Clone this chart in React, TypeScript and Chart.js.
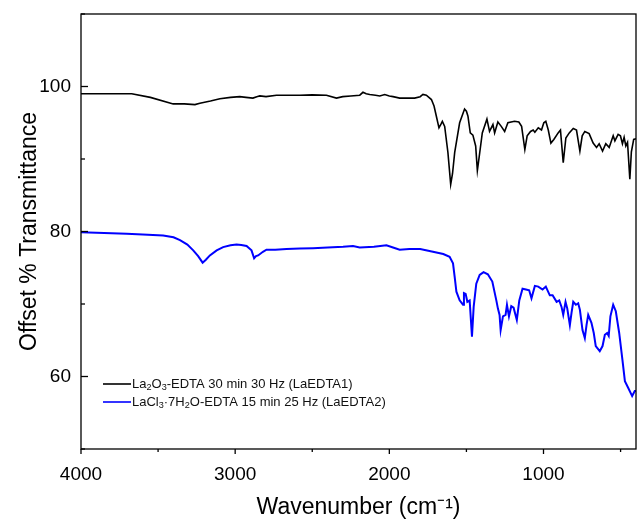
import React, { useEffect, useRef } from "react";
import { Chart, registerables } from "chart.js";

Chart.register(...registerables);

// ---------- data ----------
const wnBlack = [
  4000, 3850, 3671, 3550, 3402, 3330, 3261, 3229, 3160, 3099, 3030, 2970, 2930, 2885, 2860, 2840, 2800, 2732,
  2650, 2581, 2500, 2408, 2343, 2302, 2250, 2192, 2171, 2150, 2127, 2090, 2062, 2030, 2000, 1976, 1933, 1836,
  1800, 1782, 1760, 1727, 1710, 1695, 1678, 1665, 1656, 1641, 1620, 1602, 1590, 1576, 1544, 1512, 1500, 1490,
  1475, 1458, 1440, 1429, 1419, 1397, 1367, 1350, 1328, 1317, 1296, 1274, 1252, 1231, 1188, 1160, 1142, 1121,
  1106, 1084, 1067, 1056, 1034, 1013, 998, 985, 969, 952, 933, 905, 890, 872, 855, 833, 807, 786, 764, 749, 732,
  704, 678, 656, 639, 617, 596, 574, 548, 537, 516, 501, 488, 477, 466, 455, 440, 430, 415, 400,
];
const tBlack = [
  99.0, 99.0, 99.0, 98.5, 97.6, 97.6, 97.5, 97.7, 98.0, 98.3, 98.5, 98.6, 98.5, 98.4, 98.6, 98.7, 98.6, 98.8,
  98.8, 98.8, 98.85, 98.8, 98.4, 98.6, 98.7, 98.8, 99.2, 99.0, 98.9, 98.8, 98.7, 98.9, 98.7, 98.6, 98.4, 98.4,
  98.6, 98.9, 98.8, 98.2, 97.3, 95.9, 94.3, 94.8, 95.2, 94.5, 90.9, 86.5, 88.0, 90.9, 95.0, 96.9, 96.6, 95.9,
  93.6, 93.3, 91.8, 88.4, 90.0, 93.6, 95.5, 93.8, 94.75, 93.6, 95.1, 94.5, 93.8, 95.0, 95.2, 95.1, 94.5, 91.3,
  93.2, 93.8, 94.0, 93.7, 94.3, 94.0, 95.0, 95.2, 94.0, 92.2, 92.7, 93.6, 94.0, 89.5, 92.9, 93.6, 94.2, 94.0,
  91.1, 93.2, 93.8, 93.5, 92.2, 91.6, 92.1, 91.1, 92.1, 91.6, 93.2, 92.5, 93.4, 93.2, 92.1, 93.0, 91.8, 92.3,
  87.2, 91.0, 92.7, 92.8,
];

const wnBlue = [
  4000, 3850, 3704, 3600, 3467, 3400, 3358, 3310, 3272, 3240, 3211, 3190, 3164, 3120, 3078, 3030, 2991, 2960,
  2926, 2894, 2877, 2865, 2851, 2820, 2797, 2740, 2667, 2580, 2495, 2400, 2300, 2236, 2192, 2100, 2019, 1976,
  1933, 1870, 1800, 1717, 1650, 1609, 1587, 1576, 1565, 1544, 1522, 1516, 1505, 1494, 1479, 1464, 1453, 1436,
  1414, 1389, 1361, 1332, 1306, 1296, 1285, 1278, 1263, 1246, 1237, 1224, 1209, 1194, 1173, 1157, 1136, 1114,
  1093, 1078, 1056, 1034, 1006, 985, 959, 941, 915, 898, 883, 872, 857, 846, 829, 818, 807, 790, 775, 764, 747,
  732, 721, 710, 689, 674, 661, 635, 617, 602, 587, 577, 566, 548, 531, 509, 488, 472, 451, 425, 408, 400,
];
const tBlue = [
  79.9, 79.8, 79.7, 79.6, 79.45, 79.2, 78.8, 78.2, 77.4, 76.6, 75.7, 76.1, 76.7, 77.4, 77.85, 78.1, 78.2, 78.15,
  78.0, 77.4, 76.3, 76.6, 76.7, 77.2, 77.5, 77.5, 77.6, 77.65, 77.7, 77.8, 77.9, 78.0, 77.8, 77.9, 78.1, 77.8,
  77.5, 77.6, 77.6, 77.2, 76.9, 76.5, 75.6, 73.7, 71.7, 70.5, 69.9, 71.5, 71.4, 70.3, 70.5, 65.5, 69.6, 72.8,
  74.0, 74.4, 74.1, 73.1, 70.5, 69.4, 68.5, 66.4, 68.3, 68.5, 69.9, 68.3, 69.7, 69.5, 67.8, 70.5, 72.1, 72.0,
  71.9, 70.8, 72.5, 72.4, 72.0, 72.4, 71.2, 71.2, 70.3, 70.5, 69.6, 68.5, 70.3, 69.4, 67.1, 68.8, 70.3, 69.9,
  70.1, 69.2, 66.4, 65.3, 67.1, 68.5, 67.4, 66.0, 64.2, 63.5, 64.2, 65.75, 66.0, 65.6, 68.3, 69.9, 69.0, 66.0,
  62.3, 59.35, 58.45, 57.3, 58.0, 58.0,
];

const seriesLabels = [
  "La₂O₃-EDTA 30 min 30 Hz (LaEDTA1)",
  "LaCl₃·7H₂O-EDTA 15 min 25 Hz (LaEDTA2)",
];
const seriesColors = ["#000000", "#0000ff"];

const xTickValues = [500, 1000, 1500, 2000, 2500, 3000, 3500, 4000];
const xLabelValues = [1000, 2000, 3000, 4000];
const yTickValues = [50, 60, 70, 80, 90, 100, 110];
const yLabelValues = [60, 80, 100];

const FONT = "'Liberation Sans', Arial, sans-serif";

const SUBS: Record<string, string> = {
  "₀": "0", "₁": "1", "₂": "2", "₃": "3", "₄": "4", "₅": "5", "₆": "6", "₇": "7", "₈": "8", "₉": "9",
};

function drawRich(ctx: CanvasRenderingContext2D, text: string, x: number, y: number, size: number) {
  let cx = x;
  let buf = "";
  let bufSub = false;
  const flush = () => {
    if (!buf) return;
    const s = bufSub ? size * 0.7 : size;
    ctx.font = `${s}px ${FONT}`;
    ctx.fillText(buf, cx, bufSub ? y + size * 0.3 : y);
    cx += ctx.measureText(buf).width;
    buf = "";
  };
  for (const ch of text) {
    const sub = ch in SUBS;
    if (sub !== bufSub) {
      flush();
      bufSub = sub;
    }
    buf += sub ? SUBS[ch] : ch;
  }
  flush();
}

const framePlugin = {
  id: "frameTicks",
  afterDraw(chart: any) {
    const { ctx, chartArea, scales } = chart;
    const { left, right, top, bottom } = chartArea;
    ctx.save();
    ctx.strokeStyle = "#000";
    ctx.lineWidth = 1.3;
    ctx.strokeRect(left, top, right - left, bottom - top);
    // y ticks (inward)
    for (const v of yTickValues) {
      const py = scales.y.getPixelForValue(v);
      const len = yLabelValues.includes(v) ? 7 : 4;
      ctx.beginPath();
      ctx.moveTo(left, py);
      ctx.lineTo(left + len, py);
      ctx.stroke();
    }
    // x ticks (outward)
    for (const v of xTickValues) {
      const px = scales.x.getPixelForValue(v);
      const len = xLabelValues.includes(v) ? 5 : 3;
      ctx.beginPath();
      ctx.moveTo(px, bottom);
      ctx.lineTo(px, bottom + len);
      ctx.stroke();
    }
    // legend
    const legendY = [384, 402];
    chart.data.datasets.forEach((ds: any, i: number) => {
      const y = legendY[i];
      ctx.strokeStyle = ds.borderColor;
      ctx.lineWidth = 1.6;
      ctx.beginPath();
      ctx.moveTo(103, y);
      ctx.lineTo(131, y);
      ctx.stroke();
      ctx.fillStyle = "#111";
      ctx.textBaseline = "middle";
      ctx.textAlign = "left";
      drawRich(ctx, ds.label, 132, y, 13);
    });
    ctx.restore();
  },
};

export default function App() {
  const ref = useRef<HTMLCanvasElement | null>(null);
  useEffect(() => {
    if (!ref.current) return;
    const chart = new Chart(ref.current, {
      type: "line",
      data: {
        datasets: [
          {
            label: seriesLabels[0],
            data: wnBlack.map((w, i) => ({ x: w, y: tBlack[i] })),
            borderColor: seriesColors[0],
            borderWidth: 1.6,
            pointRadius: 0,
            tension: 0,
          },
          {
            label: seriesLabels[1],
            data: wnBlue.map((w, i) => ({ x: w, y: tBlue[i] })),
            borderColor: seriesColors[1],
            borderWidth: 2,
            pointRadius: 0,
            tension: 0,
          },
        ],
      },
      options: {
        responsive: false,
        animation: false,
        layout: { padding: { top: 14, right: 1, left: 0, bottom: 0 } },
        plugins: { legend: { display: false }, tooltip: { enabled: false } },
        scales: {
          x: {
            type: "linear",
            min: 400,
            max: 4000,
            reverse: true,
            grid: { display: false, drawTicks: false },
            border: { display: false },
            afterBuildTicks: (scale: any) => {
              scale.ticks = xTickValues.map((v) => ({ value: v }));
            },
            afterFit: (scale: any) => {
              scale.height = 74;
              scale.paddingLeft = 0;
              scale.paddingRight = 0;
            },
            ticks: {
              autoSkip: false,
              maxRotation: 0,
              padding: 14,
              color: "#000",
              font: { family: FONT, size: 19 },
              callback: (v: any) => (xLabelValues.includes(Number(v)) ? String(v) : ""),
            },
            title: {
              display: true,
              text: "Wavenumber (cm⁻¹)",
              color: "#000",
              font: { family: FONT, size: 23 },
              padding: { top: 0, bottom: 2 },
            },
          },
          y: {
            type: "linear",
            min: 50,
            max: 110,
            grid: { display: false, drawTicks: false },
            border: { display: false },
            afterBuildTicks: (scale: any) => {
              scale.ticks = yTickValues.map((v) => ({ value: v }));
            },
            afterFit: (scale: any) => {
              scale.width = 81;
              scale.paddingTop = 0;
              scale.paddingBottom = 0;
            },
            ticks: {
              autoSkip: false,
              padding: 10,
              color: "#000",
              font: { family: FONT, size: 19 },
              callback: (v: any) => (yLabelValues.includes(Number(v)) ? String(v) : ""),
            },
            title: {
              display: true,
              text: "Offset % Transmittance",
              color: "#000",
              font: { family: FONT, size: 23 },
              padding: { top: 16, bottom: 0 },
            },
          },
        },
      },
      plugins: [framePlugin],
    });
    return () => chart.destroy();
  }, []);
  return (
    <div style={{ position: "absolute", left: 0, top: 0, width: 637, height: 523, background: "#fff" }}>
      <canvas ref={ref} width={637} height={523} style={{ display: "block" }} />
    </div>
  );
}
